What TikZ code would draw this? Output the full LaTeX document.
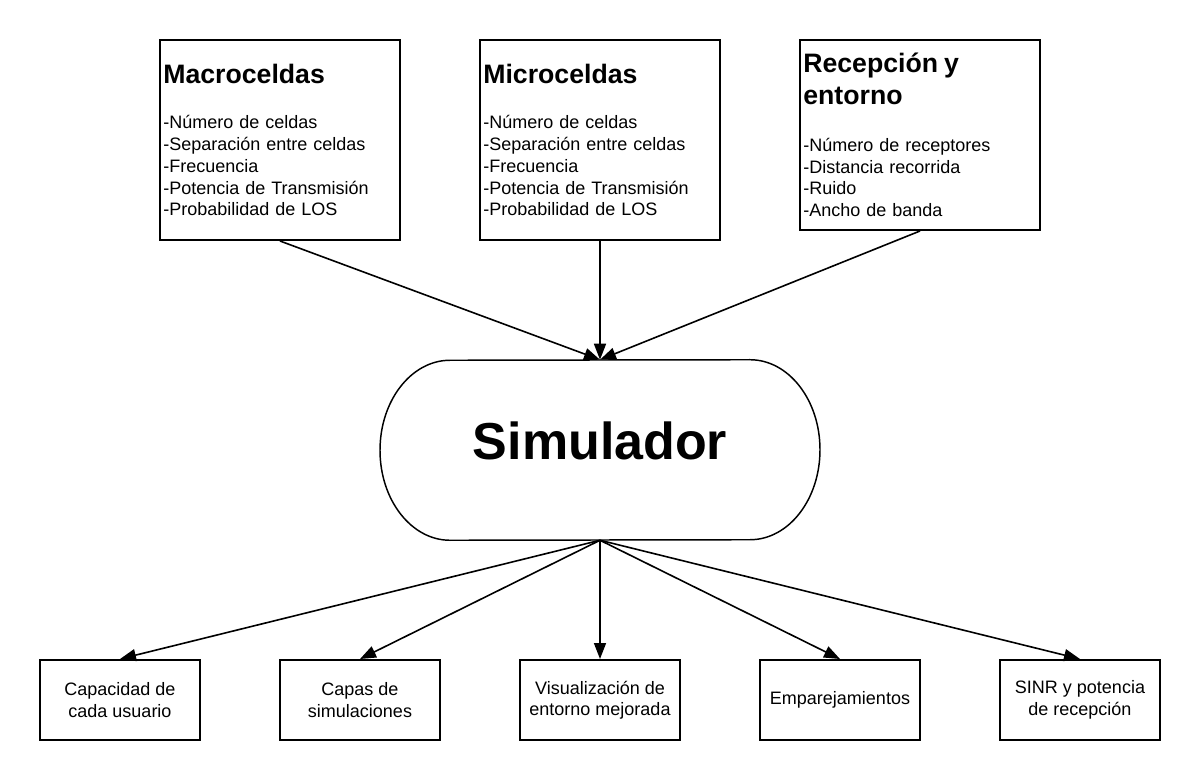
\documentclass[tikz,border=0pt]{standalone}
\usepackage{fontspec}
\setmainfont{Liberation Sans}
\usetikzlibrary{arrows.meta,calc}
\begin{document}
\begin{tikzpicture}[x=0.75pt,y=-0.75pt,
  box/.style={draw, line width=1.5pt, rectangle, inner sep=0pt},
  topbox/.style={box, minimum width=180pt, minimum height=150pt, text width=175pt, align=left,
    font=\fontsize{13.5}{16.3}\selectfont},
  botbox/.style={box, minimum width=120pt, minimum height=60pt, align=center,
    font=\fontsize{13.5}{16}\selectfont},
  arr/.style={line width=1.2pt, -{Triangle[length=12pt,width=9pt]}},
  simline/.style={line width=1.1pt}
]
\fill[white] (0,0) rectangle (1200,780);
\useasboundingbox (0,0) rectangle (1200,780);

\newcommand{\ttlfont}{\fontsize{20}{23.5}\selectfont\bfseries}
\newcommand{\bodyfont}{\fontsize{13.5}{16.3}\selectfont\mdseries}

\node[topbox] (macro) at (280,140) {\ttlfont Macroceldas\par\vspace{18pt}\bodyfont
-Número de celdas\\-Separación entre celdas\\-Frecuencia\\-Potencia de Transmisión\\-Probabilidad de LOS};
\node[topbox] (micro) at (600,140) {\ttlfont Microceldas\par\vspace{18pt}\bodyfont
-Número de celdas\\-Separación entre celdas\\-Frecuencia\\-Potencia de Transmisión\\-Probabilidad de LOS};
\node[topbox, minimum height=142.5pt] (recep) at (920,135) {\ttlfont Recepción y\\entorno\par\vspace{19pt}\bodyfont
-Número de receptores\\-Distancia recorrida\\-Ruido\\-Ancho de banda};

\node[minimum width=330pt, minimum height=135pt, inner sep=0pt] (sim) at (600,450) {};
\draw[simline] ($(sim.south)+(-150,0)$) arc[start angle=90,end angle=270,x radius=70,y radius=90]
  -- ($(sim.north)+(150,0)$) arc[start angle=-90,end angle=90,x radius=70,y radius=90] -- cycle;
\node[anchor=base, inner sep=0pt, font=\fontsize{39}{47}\selectfont\bfseries] (simtxt) at (600,460) {Simulador};

\node[botbox] (b1) at (120,700) {Capacidad de\\cada usuario};
\node[botbox] (b2) at (360,700) {Capas de\\simulaciones};
\node[botbox] (b3) at (600,700) {Visualización de\\entorno mejorada};
\node[botbox] (b4) at (840,700) {Emparejamientos};
\node[botbox] (b5) at (1080,700) {SINR y potencia\\de recepción};

\draw[arr] (macro.south) -- (sim.north);
\draw[arr] (micro.south) -- (sim.north);
\draw[arr] (recep.south) -- (sim.north);
\foreach \b in {b1,b2,b3,b4,b5}{
  \draw[arr] (sim.south) -- (\b.north);
}
\end{tikzpicture}
\end{document}
